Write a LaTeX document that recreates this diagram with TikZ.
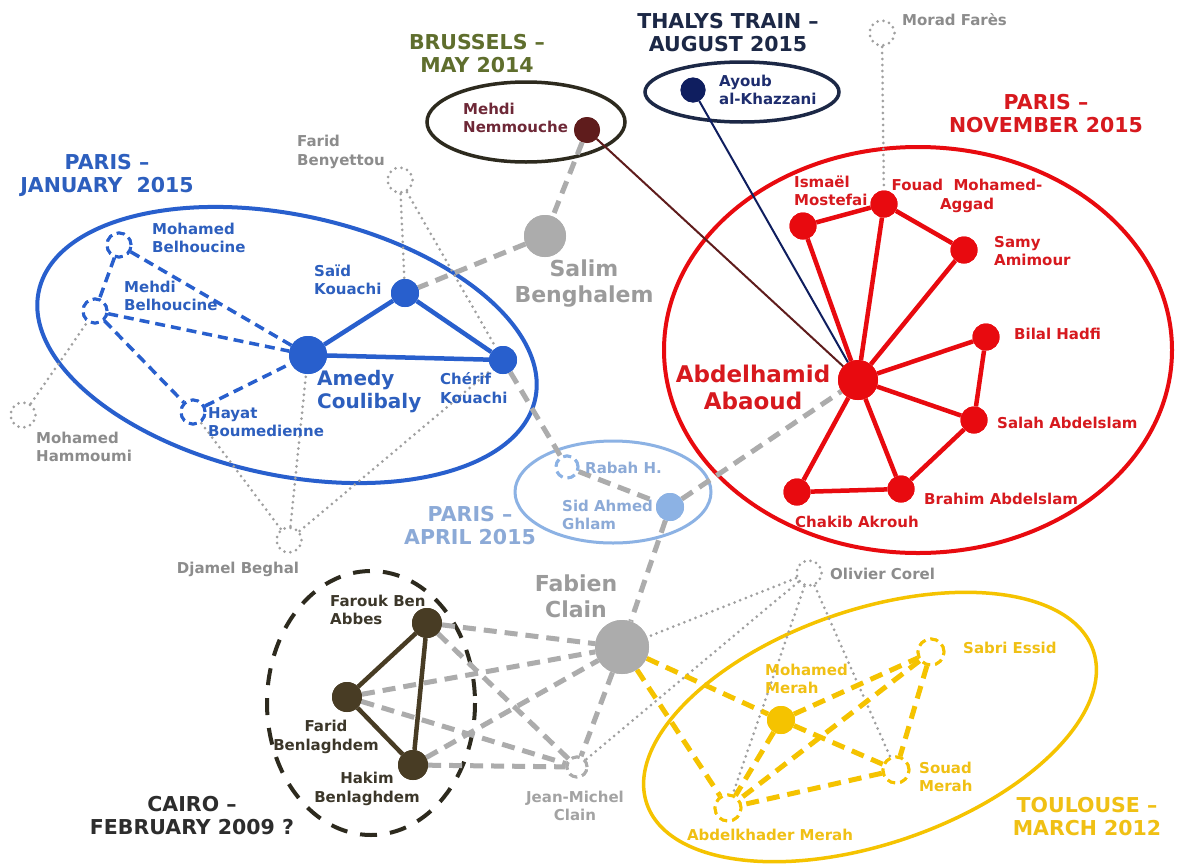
\documentclass[tikz,border=0pt]{standalone}
\usepackage{fontspec}
\setmainfont{DejaVu Sans}
\definecolor{cblue}{RGB}{40,95,205}
\definecolor{cbluetxt}{RGB}{45,95,190}
\definecolor{cred}{RGB}{232,10,15}
\definecolor{credtxt}{RGB}{215,25,30}
\definecolor{cgray}{RGB}{172,172,172}
\definecolor{cgraytxt}{RGB}{140,140,140}
\definecolor{cbigtxt}{RGB}{155,155,155}
\definecolor{cdot}{RGB}{160,160,160}
\definecolor{clb}{RGB}{140,178,228}
\definecolor{clbtxt}{RGB}{140,170,215}
\definecolor{cyel}{RGB}{245,195,0}
\definecolor{cyeltxt}{RGB}{240,192,20}
\definecolor{cbrown}{RGB}{72,60,36}
\definecolor{cbrowntxt}{RGB}{60,55,42}
\definecolor{cmaroon}{RGB}{95,28,28}
\definecolor{cmaroontxt}{RGB}{110,40,55}
\definecolor{colive}{RGB}{95,110,45}
\definecolor{cnavy}{RGB}{15,30,95}
\definecolor{cnavytxt}{RGB}{30,45,110}
\definecolor{cthalys}{RGB}{28,40,70}
\definecolor{cdark}{RGB}{45,42,30}
\definecolor{ctitledark}{RGB}{45,45,45}
\begin{document}
\begin{tikzpicture}[x=1pt,y=-1pt,
  lbl/.style={inner sep=0pt, align=left, font=\fontsize{15}{18.5}\selectfont\bfseries},
  lblc/.style={lbl, align=center},
  bigl/.style={inner sep=0pt, align=center, font=\fontsize{22}{26}\selectfont\bfseries},
  ttl/.style={inner sep=0pt, align=center, font=\fontsize{20.5}{23}\selectfont\bfseries},
  pfill/.style 2 args={circle, fill=#1, inner sep=0pt, minimum size=#2},
  pdash/.style={circle, draw=#1, fill=white, line width=3pt, dash pattern=on 8pt off 5pt, inner sep=0pt, minimum size=24pt},
  pdot/.style={circle, draw=cdot, line width=3pt, line cap=round, dash pattern=on 0pt off 6pt, inner sep=0pt, minimum size=25pt},
  dotline/.style={cdot, line width=3pt, line cap=round, dash pattern=on 0pt off 6pt},
  grayedge/.style={cgray, line width=5pt, dash pattern=on 13pt off 8pt},
  yeledge/.style={cyel, line width=5pt, dash pattern=on 13pt off 8pt},
  bluedash/.style={cblue, line width=3.5pt, dash pattern=on 10pt off 6pt},
  blueedge/.style={cblue, line width=4.5pt},
  rededge/.style={cred, line width=4.5pt},
  brownedge/.style={cbrown, line width=4.5pt},
  jmstyle/.style={circle, draw=cgray, fill=white, line width=3pt, dash pattern=on 8pt off 5pt, inner sep=0pt, minimum size=20pt}]
\useasboundingbox[fill=white] (0,0) rectangle (1180,865);

% ---------- group outlines ----------
\draw[cblue, line width=4pt, rotate around={-12.3:(287,345)}] (287,345) ellipse (254 and 130);
\draw[cred, line width=4pt] (918,350) ellipse (254 and 203);
\draw[cdark, line width=3.5pt] (526,122) ellipse (99 and 40);
\draw[cthalys, line width=3.5pt] (742,92) ellipse (97 and 30);
\draw[clb, line width=3pt] (613,492) ellipse (98 and 51);
\draw[cdark, line width=4pt, dash pattern=on 17pt off 13pt] (371,703) ellipse (104 and 132);
\draw[cyel, line width=3.5pt, rotate around={19:(870,727)}] (870,727) ellipse (236 and 117);

% ---------- person nodes (positions) ----------
\node[pdash=cblue] (mb) at (119,245) {};
\node[pdash=cblue] (mhb) at (95,311) {};
\node[pdash=cblue] (hb) at (193,412) {};
\node[pfill={cblue}{38pt}] (ac) at (308,355) {};
\node[pfill={cblue}{28pt}] (sk) at (405,293) {};
\node[pfill={cblue}{28pt}] (ck) at (503,360) {};
\node[pdot] (fbe) at (400,180) {};
\node[pdot] (mha) at (23,415) {};
\node[pdot] (djb) at (289,540) {};
\node[pdot] (mfa) at (882,33) {};
\node[pdot] (oco) at (809,573) {};
\node[pfill={cgray}{42pt}] (sbe) at (545,236) {};
\node[pfill={cgray}{54pt}] (fcl) at (622,647) {};
\node[jmstyle] (jmc) at (577,767) {};
\node[pfill={cmaroon}{26pt}] (mne) at (587,130) {};
\node[pfill={cnavy}{25pt}] (aak) at (693,90) {};
\node[pfill={cred}{40pt}] (aba) at (858,380) {};
\node[pfill={cred}{27pt}] (imo) at (803,226) {};
\node[pfill={cred}{27pt}] (fma) at (884,204) {};
\node[pfill={cred}{27pt}] (sam) at (964,250) {};
\node[pfill={cred}{27pt}] (bha) at (986,337) {};
\node[pfill={cred}{27pt}] (sab) at (974,420) {};
\node[pfill={cred}{27pt}] (bab) at (901,489) {};
\node[pfill={cred}{27pt}] (cak) at (797,492) {};
\node[pdash=clb, minimum size=22pt] (rab) at (567,467) {};
\node[pfill={clb}{28pt}] (sag) at (670,507) {};
\node[pfill={cbrown}{30pt}] (fba) at (427,623) {};
\node[pfill={cbrown}{30pt}] (fbl) at (347,697) {};
\node[pfill={cbrown}{30pt}] (hbl) at (413,765) {};
\node[pfill={cyel}{28pt}] (mme) at (781,720) {};
\node[pdash=cyel, minimum size=26pt] (ses) at (931,652) {};
\node[pdash=cyel, minimum size=26pt] (sme) at (896,770) {};
\node[pdash=cyel, minimum size=26pt] (ame) at (728,808) {};

% ---------- connectors ----------
\draw[dotline] (mha) -- (mhb);
\draw[dotline] (fbe) -- (sk);
\draw[dotline] (fbe) -- (ck);
\draw[dotline] (djb) -- (hb);
\draw[dotline] (djb) -- (ac);
\draw[dotline] (djb) -- (ck);
\draw[dotline] (mfa) -- (fma);
\draw[dotline] (oco) -- (fcl);
\draw[dotline] (oco) -- (jmc);
\draw[dotline] (oco) -- (ame);
\draw[dotline] (oco) -- (sme);
\draw[grayedge] (mne) -- (sbe);
\draw[grayedge] (sbe) -- (sk);
\draw[grayedge] (ck) -- (rab);
\draw[grayedge] (rab) -- (sag);
\draw[grayedge] (sag) -- (aba);
\draw[grayedge] (sag) -- (fcl);
\draw[grayedge] (fba) -- (fcl);
\draw[grayedge] (fbl) -- (fcl);
\draw[grayedge] (hbl) -- (fcl);
\draw[grayedge] (fba) -- (jmc);
\draw[grayedge] (fbl) -- (jmc);
\draw[grayedge] (hbl) -- (jmc);
\draw[grayedge] (fcl) -- (jmc);
\draw[bluedash] (mb) -- (mhb);
\draw[bluedash] (mb) -- (ac);
\draw[bluedash] (mhb) -- (ac);
\draw[bluedash] (mhb) -- (hb);
\draw[bluedash] (hb) -- (ac);
\draw[blueedge] (ac) -- (sk);
\draw[blueedge] (sk) -- (ck);
\draw[blueedge] (ac) -- (ck);
\draw[rededge] (imo) -- (fma);
\draw[rededge] (fma) -- (sam);
\draw[rededge] (imo) -- (aba);
\draw[rededge] (fma) -- (aba);
\draw[rededge] (sam) -- (aba);
\draw[rededge] (bha) -- (aba);
\draw[rededge] (bha) -- (sab);
\draw[rededge] (sab) -- (aba);
\draw[rededge] (sab) -- (bab);
\draw[rededge] (bab) -- (aba);
\draw[rededge] (cak) -- (aba);
\draw[rededge] (cak) -- (bab);
\draw[cmaroon, line width=2pt] (mne) -- (aba);
\draw[cnavy, line width=2pt] (aak) -- (aba);
\draw[brownedge] (fba) -- (fbl);
\draw[brownedge] (fba) -- (hbl);
\draw[brownedge] (fbl) -- (hbl);
\draw[yeledge] (fcl) -- (mme);
\draw[yeledge] (fcl) -- (ame);
\draw[yeledge] (mme) -- (ses);
\draw[yeledge] (mme) -- (sme);
\draw[yeledge] (mme) -- (ame);
\draw[yeledge] (ses) -- (sme);
\draw[yeledge] (ses) -- (ame);
\draw[yeledge] (sme) -- (ame);

% ---------- person markers drawn over the connectors ----------
\node[pdash=cblue] at (mb) {};
\node[pdash=cblue] at (mhb) {};
\node[pdash=cblue] at (hb) {};
\node[pfill={cblue}{38pt}] at (ac) {};
\node[pfill={cblue}{28pt}] at (sk) {};
\node[pfill={cblue}{28pt}] at (ck) {};
\node[pfill={cgray}{42pt}] at (sbe) {};
\node[pfill={cgray}{54pt}] at (fcl) {};
\node[jmstyle] at (jmc) {};
\node[pfill={cmaroon}{26pt}] at (mne) {};
\node[pfill={cnavy}{25pt}] at (aak) {};
\node[pfill={cred}{40pt}] at (aba) {};
\node[pfill={cred}{27pt}] at (imo) {};
\node[pfill={cred}{27pt}] at (fma) {};
\node[pfill={cred}{27pt}] at (sam) {};
\node[pfill={cred}{27pt}] at (bha) {};
\node[pfill={cred}{27pt}] at (sab) {};
\node[pfill={cred}{27pt}] at (bab) {};
\node[pfill={cred}{27pt}] at (cak) {};
\node[pdash=clb, minimum size=22pt] at (rab) {};
\node[pfill={clb}{28pt}] at (sag) {};
\node[pfill={cbrown}{30pt}] at (fba) {};
\node[pfill={cbrown}{30pt}] at (fbl) {};
\node[pfill={cbrown}{30pt}] at (hbl) {};
\node[pfill={cyel}{28pt}] at (mme) {};
\node[pdash=cyel, minimum size=26pt] at (ses) {};
\node[pdash=cyel, minimum size=26pt] at (sme) {};
\node[pdash=cyel, minimum size=26pt] at (ame) {};

% ---------- labels ----------
\node[lbl, text=cbluetxt, anchor=west] (tmb) at (152,238) {Mohamed\\Belhoucine};
\node[lbl, text=cbluetxt, anchor=west] (tmhb) at (124,296) {Mehdi\\Belhoucine};
\node[lbl, text=cbluetxt, anchor=west] (thb) at (208,422) {Hayat\\Boumedienne};
\node[lbl, text=cbluetxt, anchor=west] (tsk) at (314,280) {Saïd\\Kouachi};
\node[lbl, text=cbluetxt, anchor=west] (tck) at (440,388) {Chérif\\Kouachi};
\node[inner sep=0pt, align=left, font=\fontsize{20}{23}\selectfont\bfseries, text=cbluetxt, anchor=west] (tac) at (317,392) {Amedy\\Coulibaly};
\node[ttl, text=cbluetxt] (tpj) at (107,175) {PARIS –\\JANUARY\ \ 2015};
\node[lbl, text=cgraytxt, anchor=west] (tfbe) at (297,152) {Farid\\Benyettou};
\node[lbl, text=cgraytxt, anchor=west] (tmha) at (36,447) {Mohamed\\Hammoumi};
\node[lblc, text=cgraytxt] (tdjb) at (238,569) {Djamel Beghal};
\node[lbl, text=cgraytxt, anchor=west] (tmfa) at (902,20) {Morad Farès};
\node[lbl, text=cgraytxt, anchor=west] (toco) at (830,574) {Olivier Corel};
\node[lblc, text=cgraytxt!80] (tjmc) at (575,806) {Jean-Michel\\Clain};
\node[bigl, text=cbigtxt] (tsbe) at (584,284) {Salim\\Benghalem};
\node[bigl, text=cbigtxt] (tfcl) at (576,596) {Fabien\\Clain};
\node[lbl, text=cmaroontxt, anchor=west] (tmne) at (463,118) {Mehdi\\Nemmouche};
\node[ttl, text=colive] (tbru) at (477,54) {BRUSSELS –\\MAY 2014};
\node[lbl, text=cnavytxt, anchor=west] (taak) at (719,90) {Ayoub\\al-Khazzani};
\node[ttl, text=cthalys] (ttha) at (728,33) {THALYS TRAIN –\\AUGUST 2015};
\node[lbl, text=credtxt, anchor=west] (timo) at (794,191) {Ismaël\\Mostefai};
\node[lblc, text=credtxt] (tfma) at (967,196) {Fouad\ \ Mohamed-\\Aggad};
\node[lbl, text=credtxt, anchor=west] (tsam) at (994,251) {Samy\\Amimour};
\node[lbl, text=credtxt, anchor=west] (tbha) at (1014,334) {Bilal Hadfi};
\node[lbl, text=credtxt, anchor=west] (tsab) at (997,423) {Salah Abdelslam};
\node[lbl, text=credtxt, anchor=west] (tbab) at (924,499) {Brahim Abdelslam};
\node[lbl, text=credtxt, anchor=west] (tcak) at (795,522) {Chakib Akrouh};
\node[inner sep=0pt, align=center, font=\fontsize{23}{27}\selectfont\bfseries, text=credtxt] (taba) at (753,387) {Abdelhamid\\Abaoud};
\node[ttl, text=credtxt] (tpn) at (1046,114) {PARIS –\\NOVEMBER 2015};
\node[lbl, text=clbtxt, anchor=west] (trab) at (585,468) {Rabah H.};
\node[lbl, text=clbtxt, anchor=west] (tsag) at (562,515) {Sid Ahmed\\Ghlam};
\node[ttl, text=clbtxt] (tpa) at (470,526) {PARIS –\\APRIL 2015};
\node[lbl, text=cbrowntxt, anchor=west] (tfba) at (330,610) {Farouk Ben\\Abbes};
\node[lblc, text=cbrowntxt] (tfbl) at (326,737) {Farid\\Benlaghdem};
\node[lblc, text=cbrowntxt] (thbl) at (367,789) {Hakim\\Benlaghdem};
\node[ttl, text=ctitledark] (tcai) at (192,816) {CAIRO –\\FEBRUARY 2009 ?};
\node[lbl, text=cyeltxt, anchor=west] (tmme) at (765,679) {Mohamed\\Merah};
\node[lbl, text=cyeltxt, anchor=west] (tses) at (963,648) {Sabri Essid};
\node[lbl, text=cyeltxt, anchor=west] (tsme) at (919,777) {Souad\\Merah};
\node[lblc, text=cyeltxt] (tame) at (770,835) {Abdelkhader Merah};
\node[ttl, text=cyeltxt] (ttou) at (1087,817) {TOULOUSE –\\MARCH 2012};
\end{tikzpicture}
\end{document}
